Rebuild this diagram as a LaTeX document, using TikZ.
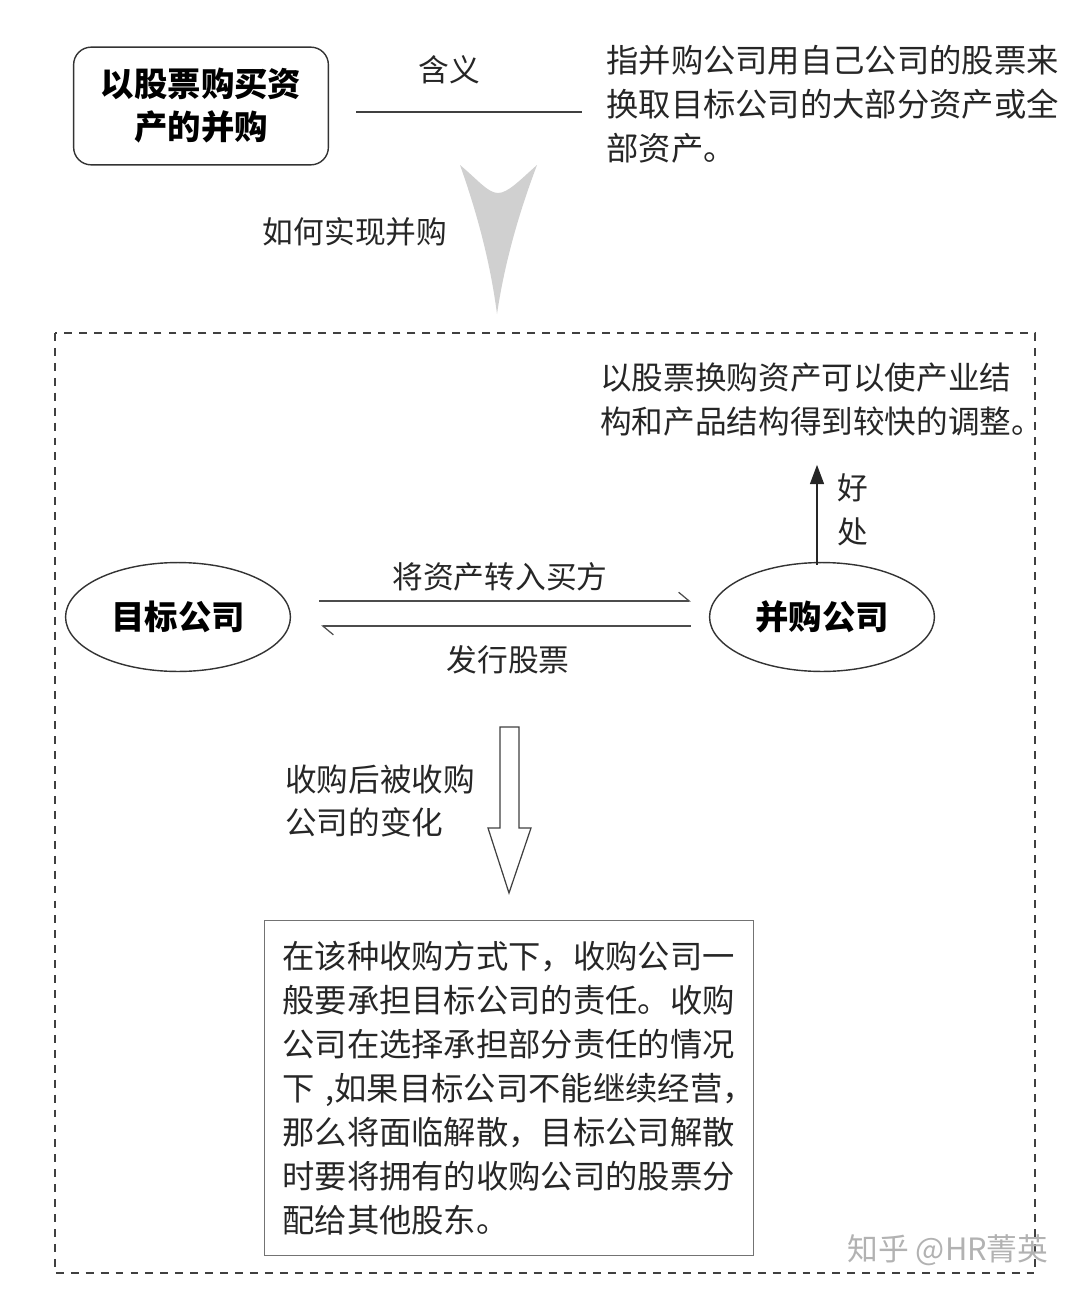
\documentclass[tikz,border=0pt]{standalone}
\usepackage{fontspec}
\setmainfont{Noto Sans CJK SC}
\usetikzlibrary{shapes.geometric,arrows.meta,calc}

\definecolor{linegray}{HTML}{333333}
\definecolor{headgray}{HTML}{D0D0D0}

\begin{document}
\begin{tikzpicture}[x=0.02cm, y=-0.02cm,
  title/.style={rectangle, rounded corners=10pt, draw=linegray, line width=0.8pt, minimum width=145pt, minimum height=67pt, align=center, font=\fontsize{19}{24.5}\selectfont\bfseries},
  company/.style={ellipse, draw=linegray, line width=0.8pt, minimum width=128pt, minimum height=62pt, font=\fontsize{19}{22}\selectfont\bfseries},
  plain/.style={align=left, inner sep=0pt, font=\fontsize{18}{25}\selectfont, text=black!85},
  label/.style={inner sep=0pt, font=\fontsize{17.5}{25}\selectfont, text=black!85},
  result/.style={rectangle, draw=black!55, line width=0.7pt, text width=258pt, inner xsep=10pt, minimum height=191pt, align=left, font=\fontsize{18.4}{25}\selectfont, text=black!85},
  harp/.style={line width=0.7pt, draw=black!70, -{Straight Barb[harpoon, length=6pt, width=10pt]}}]

  \useasboundingbox (0,0) rectangle (1080,1295);

  % top part
  \node[title] (kind) at (201,106) {以股票购买资\\产的并购};
  \node[label] (meaning) at (449,70) {含义};
  \coordinate (lineL) at (356,112);
  \coordinate (lineR) at (582,112);
  \draw[line width=0.8pt, black!75] (lineL) -- (lineR);
  \node[plain, anchor=west, font=\fontsize{18.4}{25}\selectfont] (define) at (606,104) {指并购公司用自己公司的股票来\\换取目标公司的大部分资产或全\\部资产。};

  \coordinate (gtip) at (497,314);
  \fill[headgray] (460,165) .. controls (478,180) and (488,193) .. (498,193)
    .. controls (508,193) and (520,180) .. (537,165)
    .. controls (520,210) and (505,260) .. (gtip)
    .. controls (490,260) and (476,210) .. cycle;
  \node[label] (how) at (355,232) {如何实现并购};

  % dashed frame
  \draw[line width=0.8pt, black!75, dash pattern=on 4.5pt off 4pt] (55,333) rectangle (1035,1273);

  \node[plain, anchor=west] (benefit) at (600,400) {以股票换购资产可以使产业结\\构和产品结构得到较快的调整。};
  \node[company] (target) at (178,617) {目标公司};
  \node[company] (buyer) at (822,617) {并购公司};

  \draw[line width=0.8pt, black!85, -{Triangle[length=11pt, width=8pt]}] ($(buyer.north)+(-5,3)$) -- ($(buyer.north)+(-5,-97)$);
  \node[label, align=center] (good) at (853,510) {好\\处};

  \draw[harp] ($(target.east)+(28,-16)$) -- ($(buyer.west)+(-18,-16)$);
  \draw[harp] ($(buyer.west)+(-18,9)$) -- ($(target.east)+(30,9)$);
  \node[label] (give) at (500,577) {将资产转入买方};
  \node[label] (issue) at (508,660) {发行股票};

  % hollow arrow down
  \coordinate (hs) at (500,727);
  \draw[line width=0.7pt, black!75, fill=white] (hs) -- ++(19,0) -- ++(0,101) -- ++(12,0) -- ++(-22,65) -- ++(-21,-65) -- ++(12,0) -- cycle;
  \node[plain, anchor=west] (change) at (285,801) {收购后被收购\\公司的变化};

  \node[result] (effect) at (509,1088) {在该种收购方式下，收购公司一\\般要承担目标公司的责任。收购\\公司在选择承担部分责任的情况\\下~,如果目标公司不能继续经营，\\那么将面临解散，目标公司解散\\时要将拥有的收购公司的股票分\\配给其他股东。};

  \node[inner sep=0pt, font=\fontsize{17.5}{20}\selectfont, text=black!30] (mark) at (948,1250) {知乎 @HR菁英};
\end{tikzpicture}
\end{document}
